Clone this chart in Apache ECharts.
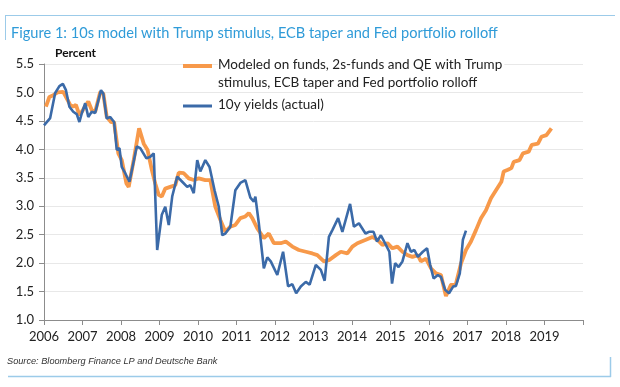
<!DOCTYPE html>
<html><head><meta charset="utf-8">
<script src="https://cdn.jsdelivr.net/npm/echarts@6/dist/echarts.min.js"></script>
<style>html,body{margin:0;padding:0;background:#fff}#c{width:620px;height:387px}</style>
</head><body><div id="c"></div>
<script>
// Year ticks
var yearTicks = [2006,2007,2008,2009,2010,2011,2012,2013,2014,2015,2016,2017,2018,2019];
// Modeled series: [decimal year, percent]
var modelYears = [2006.05,2006.14,2006.24,2006.35,2006.50,2006.68,2006.76,2006.83,2006.92,2007.01,2007.15,2007.24,2007.33,2007.46,2007.54,2007.63,2007.74,2007.82,2007.93,2008.02,2008.14,2008.20,2008.33,2008.47,2008.59,2008.69,2008.80,2008.89,2008.98,2009.06,2009.15,2009.28,2009.41,2009.50,2009.63,2009.76,2009.89,2010.02,2010.19,2010.32,2010.45,2010.58,2010.71,2010.84,2010.97,2011.10,2011.23,2011.32,2011.41,2011.54,2011.63,2011.71,2011.84,2011.97,2012.15,2012.28,2012.45,2012.62,2012.80,2012.97,2013.10,2013.27,2013.40,2013.58,2013.71,2013.88,2014.01,2014.14,2014.36,2014.53,2014.66,2014.79,2014.92,2015.05,2015.18,2015.31,2015.44,2015.57,2015.71,2015.79,2015.92,2016.05,2016.18,2016.31,2016.44,2016.57,2016.70,2016.83,2016.96,2017.09,2017.22,2017.35,2017.48,2017.61,2017.74,2017.88,2017.94,2018.05,2018.14,2018.20,2018.35,2018.44,2018.59,2018.67,2018.83,2018.92,2019.05,2019.18];
var modelValues = [4.75,4.92,4.95,5.00,5.01,4.78,4.75,4.78,4.60,4.69,4.84,4.69,4.66,5.01,4.98,4.57,4.48,4.48,3.93,3.81,3.40,3.34,3.81,4.37,4.10,3.99,3.64,3.40,3.20,3.17,3.31,3.34,3.37,3.59,3.58,3.49,3.46,3.49,3.46,3.46,2.99,2.76,2.55,2.64,2.67,2.79,2.82,2.88,2.79,2.61,2.52,2.44,2.52,2.35,2.35,2.38,2.29,2.23,2.20,2.17,2.14,2.03,2.05,2.14,2.20,2.17,2.29,2.35,2.41,2.46,2.41,2.32,2.35,2.26,2.29,2.20,2.14,2.11,2.14,2.03,2.08,1.91,1.82,1.79,1.42,1.62,1.64,1.99,2.23,2.38,2.58,2.79,2.93,3.14,3.28,3.43,3.61,3.64,3.67,3.78,3.81,3.93,3.96,4.08,4.10,4.22,4.25,4.37];
// Actual 10y yields
var actualYears = [2006.00,2006.05,2006.16,2006.29,2006.40,2006.49,2006.57,2006.66,2006.76,2006.85,2006.92,2006.98,2007.07,2007.15,2007.24,2007.33,2007.48,2007.54,2007.63,2007.72,2007.82,2007.89,2007.96,2008.02,2008.11,2008.22,2008.41,2008.50,2008.66,2008.76,2008.85,2008.94,2009.06,2009.15,2009.24,2009.33,2009.46,2009.59,2009.72,2009.80,2009.89,2009.98,2010.06,2010.19,2010.30,2010.43,2010.54,2010.63,2010.71,2010.84,2010.97,2011.10,2011.23,2011.36,2011.45,2011.49,2011.58,2011.71,2011.80,2011.89,2012.06,2012.21,2012.34,2012.45,2012.55,2012.67,2012.80,2012.90,2013.06,2013.19,2013.29,2013.40,2013.49,2013.64,2013.75,2013.95,2014.05,2014.18,2014.35,2014.44,2014.56,2014.65,2014.75,2014.88,2014.97,2015.04,2015.12,2015.21,2015.31,2015.44,2015.53,2015.62,2015.71,2015.84,2015.95,2016.03,2016.12,2016.23,2016.31,2016.42,2016.52,2016.63,2016.70,2016.80,2016.88,2016.96];
var actualValues = [4.42,4.43,4.55,4.99,5.11,5.15,5.04,4.75,4.66,4.62,4.48,4.63,4.81,4.57,4.66,4.64,5.04,4.98,4.54,4.57,4.48,3.99,4.02,3.69,3.58,3.43,4.05,4.02,3.84,3.87,3.93,2.23,2.85,2.99,2.67,3.17,3.52,3.43,3.34,3.37,3.23,3.81,3.61,3.81,3.69,3.28,2.99,2.49,2.52,2.64,3.28,3.41,3.46,3.15,3.08,3.17,2.70,1.91,2.10,2.03,1.79,2.20,1.59,1.63,1.47,1.59,1.67,1.62,1.97,1.88,1.69,2.46,2.58,2.79,2.55,3.04,2.64,2.70,2.52,2.55,2.55,2.38,2.49,2.32,2.20,1.64,2.00,1.93,2.03,2.35,2.20,2.23,2.11,2.20,2.26,1.97,1.73,1.79,1.76,1.53,1.47,1.59,1.60,1.82,2.41,2.57];

var modelNameLines = ['Modeled on funds, 2s-funds and QE with Trump', 'stimulus, ECB taper and Fed portfolio rolloff'];
var modelName = modelNameLines.join('\n');
var actualName = '10y yields (actual)';
var orange = '#f7994a', blue = '#3b6aa8';
function pairs(xs, ys){ return xs.map(function(x,i){return [x, ys[i]];}); }

var chart = echarts.init(document.getElementById('c'), null, {renderer:'canvas'});
var font = 'Lato, "Open Sans", sans-serif';
var legText = {fontSize:13.5, fill:'#222', fontFamily:font, backgroundColor:'#fff', padding:[2,2,2,0]};
chart.setOption({
  animation:false,
  grid:{left:44, right:37, top:64, bottom:67},
  title:{text:'Figure 1: 10s model with Trump stimulus, ECB taper and Fed portfolio rolloff', left:6, top:21,
    textStyle:{color:'#2f9bd8', fontSize:14.6, fontWeight:'normal', fontFamily:font}},
  xAxis:{type:'value', min:2006, max:2020, interval:1,
    axisLine:{lineStyle:{color:'#8c8c8c'}}, axisTick:{show:true, length:5, lineStyle:{color:'#8c8c8c'}},
    splitLine:{show:false},
    axisLabel:{color:'#222', fontSize:13, fontFamily:font, margin:10,
      formatter:function(v){ return yearTicks.indexOf(v) >= 0 ? String(v) : ''; }}},
  yAxis:{type:'value', min:1, max:5.5, interval:0.5,
    axisLine:{show:true, lineStyle:{color:'#8c8c8c'}}, axisTick:{show:true, length:5, lineStyle:{color:'#8c8c8c'}},
    splitLine:{lineStyle:{color:'#e8e8e8'}},
    axisLabel:{color:'#222', fontSize:13, fontFamily:font, margin:10, formatter:function(v){return v.toFixed(1);}}},
  graphic:[
    {type:'line', shape:{x1:5,y1:15.5,x2:615,y2:15.5}, style:{stroke:'#9ccbe9', lineWidth:1}},
    {type:'line', shape:{x1:5.5,y1:15,x2:5.5,y2:40}, style:{stroke:'#9ccbe9', lineWidth:1}},
    {type:'line', shape:{x1:8,y1:376.5,x2:611,y2:376.5}, style:{stroke:'#9ccbe9', lineWidth:1.5}},
    {type:'line', shape:{x1:610.5,y1:357,x2:610.5,y2:377}, style:{stroke:'#9ccbe9', lineWidth:1.5}},
    {type:'text', left:55, top:47, style:{text:'Percent', fontSize:12, fontWeight:'bold', fill:'#111', fontFamily:font}},
    {type:'text', left:7, top:357, style:{text:'Source: Bloomberg Finance LP and Deutsche Bank', fontSize:9.2, fontStyle:'italic', fill:'#333', fontFamily:'"Liberation Sans", Arial, sans-serif'}},
    // legend
    {type:'line', z:100, shape:{x1:183,y1:66,x2:212,y2:66}, style:{stroke:orange, lineWidth:4}},
    {type:'text', z:100, x:218, y:56, style:Object.assign({text:modelNameLines[0]}, legText)},
    {type:'text', z:100, x:218, y:74, style:Object.assign({text:modelNameLines[1]}, legText)},
    {type:'line', z:100, shape:{x1:183,y1:106,x2:212,y2:106}, style:{stroke:blue, lineWidth:3}},
    {type:'text', z:100, x:218, y:96, style:Object.assign({text:actualName}, legText)}
  ],
  series:[
    {name:modelName, type:'line', data:pairs(modelYears, modelValues), showSymbol:false, symbol:'none',
      lineStyle:{color:orange, width:3.8}, itemStyle:{color:orange}},
    {name:actualName, type:'line', data:pairs(actualYears, actualValues), showSymbol:false, symbol:'none',
      lineStyle:{color:blue, width:2.6}, itemStyle:{color:blue}}
  ]
});
</script></body></html>
